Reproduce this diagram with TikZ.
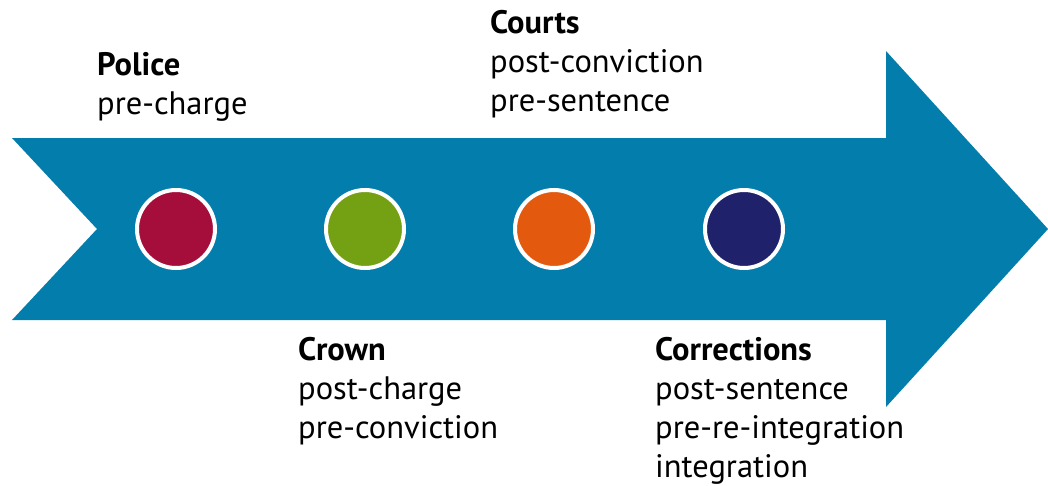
\documentclass[tikz,border=0pt]{standalone}
\usepackage{fontspec}
\setmainfont{PT Sans}
\begin{document}
\begin{tikzpicture}[x=1pt,y=-1pt,
  stage/.style={circle, draw=white, line width=4pt, minimum size=78pt, inner sep=0pt},
  lbl/.style={anchor=base west, align=left, inner sep=0pt, font=\fontsize{32.5}{38.8}\selectfont, text=black}]
  \definecolor{flowblue}{HTML}{037DAB}
  \definecolor{policered}{HTML}{A50E3A}
  \definecolor{crowngreen}{HTML}{74A114}
  \definecolor{courtorange}{HTML}{E35A0E}
  \definecolor{corrnavy}{HTML}{1F216B}
  \useasboundingbox (0,0) rectangle (1048,485);
  % chevron-tailed arrow
  \fill[flowblue] (12,138) -- (886,138) -- (886,51) -- (1048,229) -- (886,407)
    -- (886,320) -- (12,320) -- (97,229) -- cycle;
  % stage markers
  \node[stage, fill=policered]   (s1) at (176,229) {};
  \node[stage, fill=crowngreen]  (s2) at (365,229) {};
  \node[stage, fill=courtorange] (s3) at (554,229) {};
  \node[stage, fill=corrnavy]    (s4) at (744,229) {};
  % labels (anchored at the baseline of their last line)
  \node[lbl] (police) at (97,114) {\textbf{Police}\\pre-charge};
  \node[lbl] (courts) at (490,111) {\textbf{Courts}\\post-conviction\\pre-sentence};
  \node[lbl] (crown) at (298,438) {\textbf{Crown}\\post-charge\\pre-conviction};
  \node[lbl] (corrections) at (655,477) {\textbf{Corrections}\\post-sentence\\pre-re-integration\\integration};
\end{tikzpicture}
\end{document}
